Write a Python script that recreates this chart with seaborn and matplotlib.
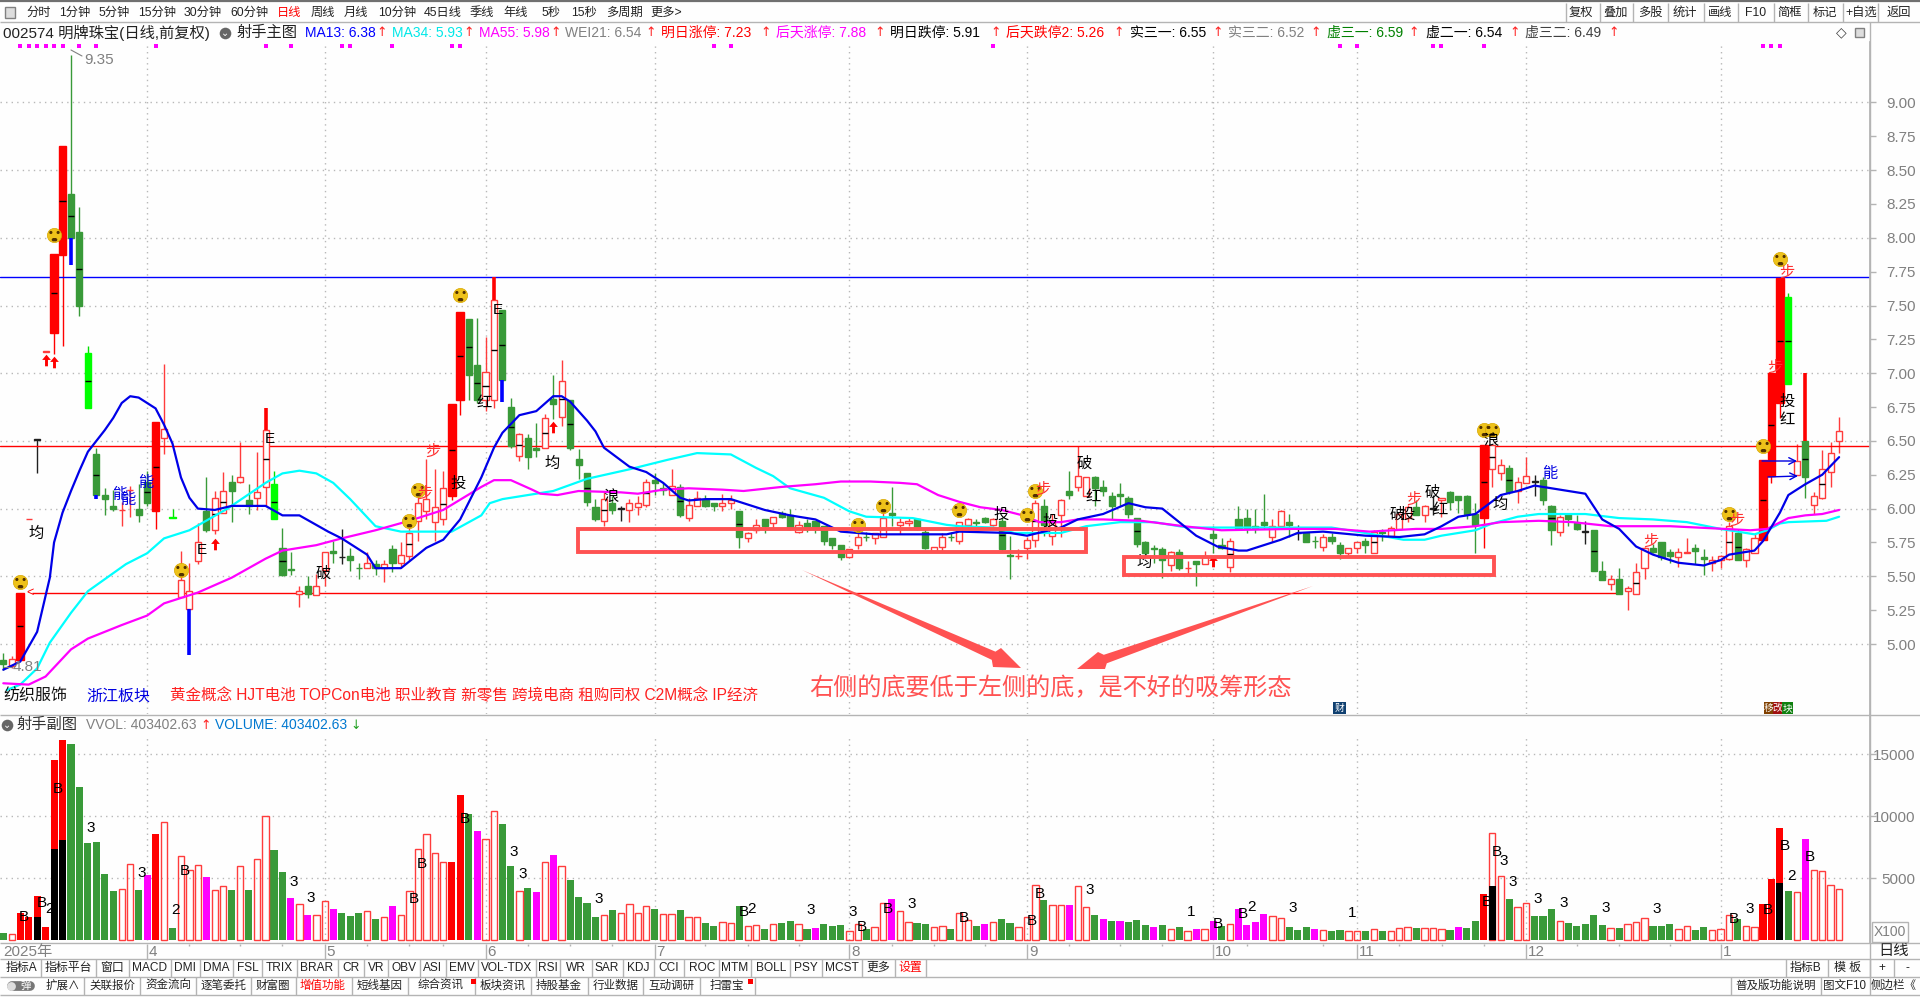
"""Дневной график 002574 (свечи, скользящие средние, объём) в стиле терминала."""

import numpy as np
import matplotlib
matplotlib.use("Agg")
import matplotlib.pyplot as plt
from matplotlib.patches import Polygon, Rectangle
from matplotlib.path import Path
from matplotlib.transforms import Affine2D
import seaborn as sns

# типы свечей по дням, всё остальное - полые красные
green_days = [0, 8, 9, 11, 12, 13, 16, 17, 24, 27, 29, 33, 34, 36, 39, 41, 42, 44, 46, 55, 56, 59, 60, 62, 63,
              65, 67, 68, 69, 70, 72, 77, 78, 80, 83, 84, 87, 90, 92, 93, 95, 96, 97, 98, 99, 102, 105, 108, 109,
              112, 115, 116, 118, 119, 123, 126, 129, 130, 131, 132, 133, 134, 135, 136, 137, 139, 141,
              143, 144, 146, 147, 148, 149, 152, 154, 155, 157, 158, 161, 163, 167,
              171, 172, 173, 174, 178, 182, 183, 185, 186, 188, 189, 191, 195, 196, 197, 200, 201,
              205, 213]
black_days = [4, 40, 73, 153, 169, 181, 187]
red_days = [2, 6, 7, 18, 53, 54, 175, 208, 209, 210]
lime_days = [10, 20, 32, 211]

body_top = [
    4.88, 4.89, 5.38, 5.92, 6.51, 7.16, 7.88, 8.68, 8.32, 8.04, 7.15, 6.40, 6.10, 6.02, 5.99, 6.14,
    6.00, 6.20, 6.64, 6.59, 5.94, 5.47, 5.39, 5.75, 5.98, 6.08, 6.13, 6.20, 6.23, 6.06, 6.12, 6.58,
    6.18, 5.71, 5.55, 5.39, 5.43, 5.43, 5.68, 5.69, 5.64, 5.65, 5.56, 5.60, 5.59, 5.59, 5.70, 5.66,
    5.82, 6.04, 6.07, 6.01, 6.15, 6.77, 7.45, 7.40, 7.06, 7.01, 7.54, 7.47, 6.75, 6.55, 6.52, 6.45,
    6.67, 6.81, 6.94, 6.80, 6.37, 6.26, 6.01, 6.07, 6.04, 6.00, 6.04, 6.04, 6.20, 6.21, 6.15, 6.17,
    6.16, 6.03, 6.08, 6.06, 6.04, 6.04, 6.06, 5.98, 5.82, 5.88, 5.92, 5.94, 5.97, 5.95, 5.88, 5.89,
    5.91, 5.87, 5.78, 5.73, 5.70, 5.79, 5.79, 5.82, 5.93, 5.97, 5.90, 5.91, 5.92, 5.83, 5.72, 5.79,
    5.79, 5.90, 5.92, 5.90, 5.93, 5.92, 5.91, 5.66, 5.65, 5.77, 6.04, 6.02, 5.90, 6.06, 6.13, 6.24,
    6.23, 6.23, 6.16, 6.09, 6.11, 6.08, 5.93, 5.75, 5.71, 5.70, 5.68, 5.68, 5.56, 5.61, 5.64, 5.81,
    5.73, 5.76, 5.92, 5.93, 5.87, 5.90, 5.87, 5.98, 5.90, 5.82, 5.82, 5.76, 5.79, 5.79, 5.73, 5.71,
    5.75, 5.76, 5.83, 5.83, 5.86, 5.96, 6.01, 6.01, 6.02, 6.00, 6.08, 6.12, 6.09, 6.09, 5.96, 6.47,
    6.47, 6.32, 6.30, 6.20, 6.24, 6.20, 6.21, 6.02, 5.94, 5.96, 5.89, 5.83, 5.84, 5.54, 5.48, 5.48,
    5.41, 5.53, 5.71, 5.71, 5.75, 5.68, 5.68, 5.68, 5.71, 5.64, 5.62, 5.65, 5.87, 5.82, 5.70, 5.78,
    6.36, 7.00, 7.70, 7.56, 6.35, 6.50, 6.09, 6.29, 6.41, 6.57,
]
body_bot = [
    4.85, 4.84, 4.88, 5.92, 6.51, 7.16, 7.30, 7.87, 8.00, 7.50, 6.74, 6.10, 6.07, 6.00, 5.99, 6.14,
    5.95, 6.04, 5.98, 6.52, 5.93, 5.35, 5.26, 5.61, 5.84, 5.84, 5.97, 6.13, 6.20, 6.02, 6.08, 6.16,
    5.92, 5.51, 5.55, 5.37, 5.37, 5.36, 5.55, 5.67, 5.64, 5.62, 5.56, 5.56, 5.56, 5.56, 5.60, 5.60,
    5.65, 5.91, 5.98, 5.90, 5.92, 6.09, 6.80, 6.99, 6.80, 6.80, 6.80, 6.95, 6.46, 6.39, 6.38, 6.43,
    6.45, 6.77, 6.68, 6.45, 6.32, 6.05, 5.92, 5.91, 5.99, 6.00, 5.99, 6.01, 6.03, 6.19, 6.14, 6.10,
    5.95, 5.93, 6.02, 6.02, 6.02, 6.02, 6.04, 5.79, 5.78, 5.84, 5.87, 5.89, 5.94, 5.85, 5.83, 5.85,
    5.86, 5.76, 5.73, 5.64, 5.64, 5.73, 5.79, 5.78, 5.79, 5.95, 5.88, 5.89, 5.85, 5.71, 5.69, 5.72,
    5.79, 5.76, 5.88, 5.89, 5.90, 5.88, 5.70, 5.65, 5.65, 5.71, 5.77, 5.88, 5.80, 5.95, 6.10, 6.16,
    6.09, 6.15, 6.13, 6.02, 6.09, 5.96, 5.74, 5.67, 5.70, 5.62, 5.58, 5.56, 5.56, 5.59, 5.59, 5.78,
    5.71, 5.57, 5.86, 5.86, 5.86, 5.88, 5.79, 5.87, 5.88, 5.82, 5.75, 5.76, 5.72, 5.76, 5.67, 5.67,
    5.71, 5.73, 5.67, 5.82, 5.80, 5.85, 5.93, 5.95, 5.95, 6.00, 6.06, 6.05, 6.06, 5.96, 5.88, 5.93,
    6.29, 6.26, 6.12, 6.13, 6.19, 6.20, 6.06, 5.84, 5.83, 5.92, 5.85, 5.83, 5.54, 5.47, 5.44, 5.37,
    5.39, 5.37, 5.56, 5.68, 5.64, 5.65, 5.64, 5.67, 5.69, 5.63, 5.60, 5.62, 5.63, 5.62, 5.62, 5.67,
    5.77, 6.24, 6.78, 6.92, 6.25, 6.23, 6.03, 6.08, 6.27, 6.50,
]
highs = [
    4.93, 4.91, 5.38, 5.92, 6.51, 7.16, 7.88, 8.68, 9.35, 8.23, 7.20, 6.45, 6.15, 6.14, 6.05, 6.17,
    6.18, 6.28, 6.64, 7.07, 6.00, 5.69, 5.60, 5.89, 6.23, 6.13, 6.27, 6.25, 6.49, 6.18, 6.42, 6.58,
    6.28, 5.86, 5.68, 5.43, 5.50, 5.52, 5.68, 5.76, 5.85, 5.71, 5.60, 5.68, 5.62, 5.62, 5.73, 5.75,
    5.94, 6.10, 6.37, 6.29, 6.28, 6.77, 7.45, 7.40, 7.41, 7.27, 7.54, 7.47, 6.82, 6.56, 6.55, 6.63,
    6.70, 6.99, 7.10, 6.80, 6.44, 6.26, 6.07, 6.13, 6.09, 6.02, 6.07, 6.09, 6.22, 6.26, 6.19, 6.29,
    6.18, 6.08, 6.13, 6.10, 6.04, 6.11, 6.10, 5.98, 5.83, 5.92, 5.92, 5.94, 5.98, 6.00, 5.91, 5.92,
    5.91, 5.87, 5.78, 5.73, 5.70, 5.86, 5.83, 5.82, 5.98, 6.16, 5.93, 5.94, 5.93, 5.86, 5.72, 5.82,
    5.83, 5.90, 5.93, 5.92, 5.94, 5.93, 5.93, 5.80, 5.70, 5.79, 6.06, 6.07, 5.96, 6.07, 6.28, 6.46,
    6.23, 6.24, 6.21, 6.12, 6.19, 6.09, 5.93, 5.76, 5.73, 5.72, 5.69, 5.70, 5.61, 5.61, 5.69, 5.87,
    5.78, 5.78, 6.02, 6.00, 6.00, 6.11, 5.92, 5.99, 5.96, 5.88, 5.83, 5.80, 5.81, 5.82, 5.75, 5.71,
    5.75, 5.78, 5.84, 5.85, 5.87, 5.97, 6.03, 6.06, 6.03, 6.10, 6.08, 6.13, 6.09, 6.10, 6.04, 6.47,
    6.47, 6.37, 6.32, 6.23, 6.38, 6.25, 6.23, 6.03, 5.95, 5.97, 5.95, 5.91, 5.84, 5.61, 5.51, 5.56,
    5.43, 5.60, 5.72, 5.74, 5.75, 5.70, 5.71, 5.78, 5.74, 5.70, 5.65, 5.66, 5.90, 5.85, 5.71, 5.81,
    6.36, 7.00, 7.70, 7.59, 6.48, 6.50, 6.12, 6.43, 6.49, 6.68,
]
lows = [
    4.81, 4.82, 4.88, 5.92, 6.26, 7.16, 7.14, 7.20, 8.00, 7.42, 6.74, 6.10, 5.95, 5.98, 5.87, 5.94,
    5.90, 6.02, 5.85, 6.40, 5.93, 5.35, 5.26, 5.59, 5.83, 5.81, 5.97, 5.90, 6.19, 5.96, 5.99, 6.02,
    5.92, 5.50, 5.51, 5.27, 5.34, 5.36, 5.43, 5.60, 5.59, 5.54, 5.48, 5.56, 5.51, 5.46, 5.53, 5.57,
    5.62, 5.76, 5.92, 5.76, 5.88, 6.06, 6.69, 6.80, 6.78, 6.72, 6.74, 6.95, 6.45, 6.35, 6.29, 6.38,
    6.45, 6.66, 6.61, 6.43, 6.22, 6.02, 5.91, 5.87, 5.96, 5.91, 5.90, 5.95, 6.01, 6.10, 6.10, 6.10,
    5.94, 5.91, 6.02, 6.01, 5.98, 5.98, 6.00, 5.71, 5.75, 5.82, 5.82, 5.85, 5.93, 5.84, 5.82, 5.83,
    5.82, 5.73, 5.70, 5.62, 5.64, 5.70, 5.76, 5.74, 5.79, 5.87, 5.81, 5.87, 5.84, 5.70, 5.69, 5.69,
    5.76, 5.74, 5.85, 5.87, 5.89, 5.87, 5.69, 5.48, 5.63, 5.63, 5.72, 5.80, 5.73, 5.79, 6.07, 6.13,
    6.09, 6.02, 6.09, 5.92, 6.02, 5.93, 5.72, 5.66, 5.60, 5.49, 5.54, 5.55, 5.52, 5.43, 5.59, 5.67,
    5.70, 5.53, 5.85, 5.82, 5.82, 5.85, 5.75, 5.87, 5.79, 5.77, 5.75, 5.71, 5.69, 5.74, 5.63, 5.66,
    5.67, 5.67, 5.67, 5.76, 5.79, 5.84, 5.90, 5.95, 5.90, 5.95, 5.94, 5.99, 5.97, 5.92, 5.67, 5.71,
    6.16, 6.21, 6.11, 6.04, 6.19, 6.09, 6.03, 5.73, 5.80, 5.87, 5.84, 5.74, 5.54, 5.47, 5.40, 5.37,
    5.25, 5.37, 5.48, 5.67, 5.62, 5.60, 5.57, 5.67, 5.59, 5.51, 5.54, 5.56, 5.62, 5.62, 5.57, 5.67,
    5.77, 6.19, 6.67, 6.92, 6.25, 6.08, 5.96, 6.07, 6.16, 6.41,
]

# толстые «хвосты» свечей
thick_days = [8, 11, 22, 59, 31, 58, 213]
thick_low = [7.80, 6.07, 4.92, 6.79, 6.58, 7.54, 6.50]
thick_high = [8.00, 6.10, 5.26, 6.95, 6.74, 7.71, 7.00]
thick_colors = ["#0000ff", "#0000ff", "#0000ff", "#0000ff", "#ff0000", "#ff0000", "#ff0000"]

ma13_days = [0, 2, 4, 5.5, 6, 7, 8, 9, 10, 12, 13, 14, 15, 16, 18, 19, 20, 21, 22, 23, 25, 27, 31, 33, 35, 38.4,
             40, 43, 44, 47, 50, 52, 54, 56.5, 58, 59, 61, 63, 65, 66, 67, 68, 69, 70, 71, 74, 76, 78, 80, 81, 83,
             86, 90, 93, 96, 99, 103, 108, 111.5, 113, 119, 121, 125, 127, 130, 133, 135, 137, 139, 141, 143.5,
             146, 147, 151, 153, 156, 161, 165, 168, 170, 172, 174, 177, 179, 181, 183, 187, 189,
             191, 193, 195, 198, 201, 203, 204, 207, 208, 210, 211, 213, 215, 217]
ma13_vals = [4.81, 4.87, 5.09, 5.49, 5.75, 5.97, 6.13, 6.28, 6.42, 6.58, 6.67, 6.78, 6.83, 6.82, 6.74, 6.62, 6.48,
             6.23, 6.08, 6.00, 5.99, 6.02, 6.02, 5.95, 5.95, 5.83, 5.78, 5.66, 5.56, 5.56, 5.71, 5.77, 5.92, 6.23,
             6.45, 6.56, 6.69, 6.72, 6.83, 6.83, 6.79, 6.72, 6.65, 6.57, 6.45, 6.31, 6.27, 6.19, 6.08, 6.06, 6.07,
             6.07, 5.99, 5.95, 5.92, 5.83, 5.81, 5.81, 5.81, 5.83, 5.82, 5.80, 5.86, 5.92, 5.96, 6.04, 6.01, 6.00,
             5.90, 5.80, 5.72, 5.69, 5.69, 5.77, 5.82, 5.83, 5.80, 5.79, 5.81, 5.87, 5.94, 5.96, 6.10, 6.13,
             6.17, 6.15, 6.11, 5.92, 5.85, 5.72, 5.66, 5.60, 5.58, 5.62, 5.66, 5.69, 5.76, 5.97, 6.10,
             6.18, 6.25, 6.38]

ma34_days = [0.4, 2, 4, 5.5, 8, 10, 14.5, 17, 19, 22, 26.5, 31, 33, 35, 37, 39, 41, 44, 47, 53, 56.5, 57.5,
             59, 63, 65, 69, 74, 78.5, 82, 86, 89, 91, 93, 97, 100, 102, 107.5, 111.5, 113, 117, 119.5,
             125, 128, 132, 136, 140, 144.5, 154, 157, 161, 165.5, 168, 170, 174, 176, 179, 181.5, 187,
             191, 195, 199, 203, 207, 208.5, 210, 211, 215.5, 217]
ma34_vals = [4.66, 4.70, 4.82, 5.01, 5.23, 5.39, 5.59, 5.67, 5.78, 5.84, 6.00, 6.19, 6.26, 6.28, 6.26, 6.19,
             6.07, 5.87, 5.83, 5.83, 5.95, 6.04, 6.07, 6.11, 6.13, 6.22, 6.29, 6.36, 6.41, 6.40, 6.30,
             6.24, 6.15, 6.08, 5.98, 5.94, 5.93, 5.88, 5.87, 5.86, 5.82, 5.82, 5.87, 5.90, 5.90, 5.86,
             5.86, 5.86, 5.86, 5.82, 5.77, 5.77, 5.80, 5.84, 5.89, 5.94, 5.96, 5.96, 5.93, 5.92, 5.90,
             5.85, 5.81, 5.84, 5.89, 5.90, 5.91, 5.94]

ma55_days = [0, 3, 5, 8, 10, 14, 17, 19, 23, 27, 31, 33, 37, 40, 44, 48, 52, 56.5, 58, 60, 62.5, 63.5, 65.5,
             68, 73, 75, 78, 81, 85, 87.5, 92, 96, 99, 102.5, 106, 108, 110.5, 113, 115.5, 118, 120.5,
             122.5, 125, 127, 130, 134.5, 139.5, 144, 152.5, 157.5, 161.5, 167, 170, 174, 177, 181.5,
             185.5, 190, 197, 203.5, 206.5, 208.5, 211, 213, 215, 217]
ma55_vals = [4.71, 4.70, 4.76, 4.96, 5.04, 5.14, 5.21, 5.30, 5.38, 5.49, 5.63, 5.69, 5.73, 5.78, 5.84, 5.91,
             5.99, 6.16, 6.21, 6.21, 6.14, 6.11, 6.10, 6.13, 6.12, 6.11, 6.14, 6.15, 6.14, 6.13, 6.16,
             6.18, 6.20, 6.20, 6.19, 6.18, 6.10, 6.05, 6.01, 5.99, 5.95, 5.90, 5.90, 5.92, 5.92, 5.91,
             5.87, 5.84, 5.85, 5.85, 5.83, 5.85, 5.85, 5.87, 5.90, 5.91, 5.90, 5.87, 5.87, 5.85, 5.84,
             5.85, 5.93, 5.95, 5.96, 5.99]

hline_blue = 7.71
hline_red = 6.46
hline_support = 5.38

volumes = [
    540, 460, 2200, 1860, 3550, 1050, 14530, 16140, 15820, 12350, 7830, 7910, 5330, 3950, 4090, 6110, 4040,
    5250, 8550, 9500, 970, 6750, 5620, 6030, 5080, 4010, 4330, 4040, 5950, 4040, 6510, 9980, 7260, 5490,
    3390, 2880, 2020, 1990, 3120, 2500, 2180, 1940, 2180, 2310, 1690, 1830, 2740, 1990, 3930, 7320, 8530,
    6990, 6270, 6300, 11700, 10170, 8800, 8120, 10460, 9360, 5970, 3930, 4200, 3870, 6270, 6860, 5950,
    4840, 3470, 2990, 1860, 1990, 2420, 2180, 2880, 2180, 2740, 2500, 2100, 2100, 2420, 1860, 1860, 1370,
    1130, 1450, 1370, 2740, 1130, 1210, 890, 1290, 1370, 1530, 1290, 890, 970, 1290, 1130, 1210, 730, 1290,
    890, 1020, 2960, 3310, 2310, 1450, 1370, 1290, 1020, 1130, 890, 2180, 1610, 1130, 1290, 1450, 1690,
    1370, 1020, 1860, 4410, 3230, 2820, 2820, 2820, 4330, 2640, 2020, 1690, 1530, 1530, 1450, 1610, 1210,
    1050, 1210, 890, 1050, 730, 890, 890, 1530, 1130, 1290, 2500, 1210, 1450, 2100, 1940, 1780, 1050, 810,
    1050, 890, 810, 730, 810, 730, 730, 730, 890, 730, 730, 970, 1050, 970, 970, 970, 890, 810, 1050, 970,
    1530, 3710, 8610, 5140, 3310, 2640, 2960, 1940, 1940, 2500, 1530, 1370, 1130, 1290, 2020, 1210, 940,
    970, 1260, 1430, 1750, 1130, 1130, 1290, 860, 1100, 810, 1050, 780, 860, 1990, 1690, 1100, 1020, 2900,
    4920, 9040, 3950, 3850, 8150, 5620, 5540, 4410, 4090,
]
# цвет столбцов объёма по дням, всё остальное - полые
vol_green = [0, 8, 9, 10, 11, 12, 13, 16, 20, 27, 29, 32, 33, 40, 41, 42, 44, 55, 59, 60, 62, 67, 68, 69, 70,
             72, 77, 80, 83, 84, 87, 90, 92, 93, 95, 97, 98, 99, 102, 108, 109, 112, 115, 118, 119, 123, 129,
             131, 133, 134, 135, 137, 139, 144, 152, 153, 154, 157, 158, 161, 163, 167, 171, 173, 174, 178,
             181, 182, 183, 185, 186, 187, 188, 189, 191, 195, 196, 197, 200, 201, 205, 211]
vol_red = [2, 3, 4, 5, 6, 7, 18, 53, 54, 175, 208, 209, 210]
vol_magenta = [17, 24, 34, 36, 39, 46, 56, 63, 65, 96, 105, 116, 126, 130, 132, 136, 141, 143, 146, 147, 148,
               149, 155, 172, 213]
# чёрная нижняя часть столбца
black_vol_days = [4, 6, 7, 176, 210]
black_vol_vals = [1860, 7340, 8070, 4360, 4570]

month_days = [17, 38, 57, 77, 100, 121, 143, 160, 180, 203]
month_labels = ["4", "5", "6", "7", "8", "9", "10", "11", "12", "1"]
week_days = [22, 28, 33, 43, 48, 52, 62, 67, 72, 83, 88, 94, 105, 110, 116, 126, 132, 137, 147,
             156, 165, 170, 175, 186, 191, 197]
signal_days = [2, 3, 4, 5, 6, 7, 9, 11, 18, 31, 34, 40, 41, 46, 53, 54, 84, 86, 117, 158, 160, 169, 170,
               175, 208, 209, 210]
smile_days = [6, 2, 21, 49, 48, 54, 101, 104, 113, 122, 121, 175, 176, 204, 208, 210]
smile_vals = [8.02, 5.46, 5.55, 6.14, 5.91, 7.58, 5.88, 6.02, 5.99, 6.13, 5.95, 6.58, 6.58, 5.96, 6.46, 7.84]
up_arrow_days = [5, 6, 25, 65, 143]
up_arrow_vals = [7.10, 7.08, 5.74, 6.60, 5.61]

# подписи поверх графика
black_tags = [("均", 36, 534), ("E", 202, 550), ("E", 270, 439), ("破", 323, 574), ("投", 458, 484),
              ("红", 484, 403), ("E", 498, 310), ("均", 552, 464), ("浪", 611, 497), ("投", 1001, 515),
              ("投", 1050, 522), ("破", 1084, 464), ("红", 1093, 497), ("均", 1144, 563), ("破", 1397, 515),
              ("投", 1407, 515), ("破", 1432, 493), ("红", 1440, 510), ("浪", 1491, 441), ("均", 1500, 505),
              ("投", 1787, 402), ("红", 1787, 420)]
red_tags = [("步", 433, 452), ("步", 425, 494), ("步", 1043, 490), ("步", 1414, 500), ("步", 1651, 542),
            ("步", 1737, 521), ("步", 1787, 273), ("步", 1775, 368)]
blue_tags = [("能", 120, 495), ("能", 128, 500), ("能", 146, 483), ("能", 1550, 474)]
vol_tags = [("B", 24, 917), ("B", 42, 903), ("B", 58, 789), ("B", 185, 871), ("B", 414, 899), ("B", 422, 864),
            ("B", 465, 819), ("B", 744, 912), ("B", 862, 927), ("B", 888, 909), ("B", 964, 918), ("B", 1032, 921),
            ("B", 1040, 894), ("B", 1218, 924), ("B", 1243, 914), ("B", 1487, 902), ("B", 1497, 852),
            ("B", 1734, 919), ("B", 1768, 910), ("B", 1785, 846), ("B", 1810, 857),
            ("3", 91, 828), ("3", 142, 873), ("3", 294, 882), ("3", 311, 898), ("3", 514, 852), ("3", 523, 874),
            ("3", 599, 899), ("3", 811, 910), ("3", 853, 912), ("3", 912, 904), ("3", 1090, 890), ("3", 1293, 908),
            ("3", 1504, 861), ("3", 1513, 882), ("3", 1538, 899), ("3", 1564, 903), ("3", 1606, 908),
            ("3", 1657, 909), ("3", 1750, 909), ("2", 49, 909), ("2", 176, 910), ("2", 751, 909), ("2", 1251, 907),
            ("2", 1792, 876), ("1", 1191, 912), ("1", 1352, 913)]

toolbar_labels = ["分时", "1分钟", "5分钟", "15分钟", "30分钟", "60分钟", "日线", "周线", "月线", "10分钟", "45日线",
                  "季线", "年线", "5秒", "15秒", "多周期", "更多>"]
toolbar_x = [39, 75, 114, 157, 203, 249, 289, 323, 356, 397, 443, 482, 516, 551, 584, 624, 666]
tools_labels = ["复权", "叠加", "多股", "统计", "画线", "F10", "简框", "标记", "+自选", "返回"]
tools_x = [1581, 1616, 1650, 1685, 1720, 1756, 1790, 1825, 1861, 1899]
tools_lines = [1566, 1600, 1633, 1668, 1704, 1738, 1774, 1808, 1843, 1878]

header_items = [("MA13: 6.38", 305, "#0000ff", 381), ("MA34: 5.93", 392, "#00e8e8", 468),
                ("MA55: 5.98", 479, "#ff00ff", 555), ("WEI21: 6.54", 565, "#808080", 650),
                ("明日涨停: 7.23", 661, "#ff0000", 765), ("后天涨停: 7.88", 776, "#ff00ff", 879),
                ("明日跌停: 5.91", 890, "#000000", 995), ("后天跌停2: 5.26", 1006, "#ff0000", 1118),
                ("实三一: 6.55", 1130, "#000000", 1217), ("实三二: 6.52", 1228, "#808080", 1315),
                ("虚三一: 6.59", 1327, "#008000", 1413), ("虚二一: 6.54", 1426, "#000000", 1514),
                ("虚三二: 6.49", 1525, "#404040", 1613)]

row1_labels = ["指标A", "指标平台", "窗口", "MACD", "DMI", "DMA", "FSL", "TRIX", "BRAR", "CR", "VR", "OBV", "ASI", "EMV",
               "VOL-TDX", "RSI", "WR", "SAR", "KDJ", "CCI", "ROC", "MTM", "BOLL", "PSY", "MCST", "更多", "设置",
               "指标B", "模 板", "+", "-"]
row1_x = [21, 68, 112, 150, 185, 216, 248, 279, 317, 351, 376, 404, 433, 462, 507, 548, 576, 607, 638, 669,
          702, 735, 771, 806, 842, 878, 910, 1806, 1848, 1882, 1907]
row1_lines = [41, 96, 129, 171, 200, 233, 262, 297, 338, 364, 388, 420, 446, 478, 536, 560, 592, 623, 654, 684,
              719, 751, 790, 822, 862, 895, 926, 1786, 1828, 1870, 1894]
row2_labels = ["扩展∧", "关联报价", "资金流向", "逐笔委托", "财富圈", "增值功能", "短线基因", "综合资讯", "板块资讯", "持股基金",
               "行业数据", "互动调研", "扫雷宝", "普及版功能说明", "图文F10", "侧边栏《"]
row2_x = [63, 112, 168, 224, 273, 323, 380, 441, 503, 559, 616, 671, 727, 1776, 1845, 1894]
row2_lines = [84, 140, 196, 251, 296, 352, 408, 475, 531, 588, 643, 700, 755, 1731, 1821, 1870]

concept_text = "黄金概念 HJT电池 TOPCon电池 职业教育 新零售 跨境电商 租购同权 C2M概念 IP经济"
note_text = "右侧的底要低于左侧的底，是不好的吸筹形态"

FIG_W, FIG_H = 1920, 997
BAR_STEP = 8.46
BAR_X0 = 3.3
PANEL_RIGHT = 1870
BG = "#fefefe"
RED = "#ff3c3c"
GREEN = "#399a39"
NOTE_RED = "#ff5252"
GREY = "#808080"
LINE_GREY = "#b4b4b4"

sns.set_theme(style="white")
plt.rcParams["font.family"] = ["Liberation Sans", "Noto Sans CJK SC", "DejaVu Sans"]


def px_axes(fig, x0, y0, x1, y1):
    """Оси по пиксельным границам (y считается сверху вниз)."""
    return fig.add_axes([x0 / FIG_W, 1 - y1 / FIG_H, (x1 - x0) / FIG_W, (y1 - y0) / FIG_H])


def draw_candles(ax):
    days = np.arange(len(body_top))
    kinds = np.full(len(body_top), "h")
    kinds[green_days] = "g"
    kinds[black_days] = "k"
    kinds[red_days] = "r"
    kinds[lime_days] = "l"
    top, bot = np.array(body_top), np.array(body_bot)
    wick_colors = {"g": GREEN, "h": RED, "r": "#ff0000", "l": "#00e000", "k": "#202020"}
    face_colors = {"g": GREEN, "h": BG, "r": "#ff0000", "l": "#00ff00", "k": "#202020"}
    edge_colors = {"g": GREEN, "h": RED, "r": "#ff0000", "l": "#00ff00", "k": "#202020"}
    for kind in "ghrlk":
        mask = kinds == kind
        ax.vlines(days[mask], np.array(lows)[mask], np.array(highs)[mask],
                  color=wick_colors[kind], linewidth=1.0, zorder=2)
        width = 0.92 if kind == "r" else 0.72
        ax.bar(days[mask], np.maximum(top[mask] - bot[mask], 0.001), bottom=bot[mask], width=width,
               facecolor=face_colors[kind], edgecolor=edge_colors[kind], linewidth=1.0, zorder=3)
    ax.vlines(thick_days, thick_low, thick_high, color=thick_colors, linewidth=2.6, zorder=3)
    tall = (top - bot) >= 0.16
    ax.hlines((top[tall] + bot[tall]) / 2, days[tall] - 0.36, days[tall] + 0.36,
              color="black", linewidth=1.0, zorder=3.5)


def draw_main(ax):
    ax.set_facecolor(BG)
    ax.set_xlim(-BAR_X0 / BAR_STEP, (PANEL_RIGHT - BAR_X0) / BAR_STEP)
    ax.set_ylim(5 - 70 / 135.4, 5 + 602 / 135.4)
    ax.hlines(np.arange(5, 9.01, 0.5), *ax.get_xlim(), color="#b8b8b8", linewidth=1, linestyle=(0, (1, 3)), zorder=1)
    ax.vlines(month_days, *ax.get_ylim(), color="#b8b8b8", linewidth=1, linestyle=(0, (1, 3)), zorder=1)

    draw_candles(ax)

    sns.lineplot(x=ma34_days, y=ma34_vals, color="#00ffff", linewidth=1.6, ax=ax, zorder=4, estimator=None)
    sns.lineplot(x=ma55_days, y=ma55_vals, color="#ff00ff", linewidth=1.6, ax=ax, zorder=4.1, estimator=None)
    sns.lineplot(x=ma13_days, y=ma13_vals, color="#0000e8", linewidth=1.6, ax=ax, zorder=4.2, estimator=None)

    ax.axhline(hline_blue, color="#0000ff", linewidth=1, zorder=2.5)
    ax.axhline(hline_red, color="#ff0000", linewidth=1, zorder=2.5)
    ax.hlines(hline_support, 3.4, 190.9, color="#ff0000", linewidth=1, zorder=2.5)

    sns.scatterplot(x=signal_days, y=[9.416] * len(signal_days), marker="s", s=7, color="#ff00ff",
                    linewidth=0, ax=ax, zorder=5)

    # смайлики: жёлтый круг и рожица отдельным маркером
    eye = Path.unit_circle().transformed(Affine2D().scale(0.13))
    parts = [eye.transformed(Affine2D().translate(dx, dy))
             for dx, dy in [(-0.3, 0.25), (0.3, 0.25), (0, -0.35), (-0.1, -0.35), (0.1, -0.35)]]
    face = Path.make_compound_path(*parts)
    sns.scatterplot(x=smile_days, y=smile_vals, s=105, color="#eec21a", edgecolor="#d8a800", linewidth=0.5,
                    ax=ax, zorder=5.5)
    ax.scatter(smile_days, smile_vals, marker=face, s=70, c="#503000", linewidths=0, zorder=5.6)

    arrow = Path([(0, 1), (0.75, 0.1), (0.25, 0.1), (0.25, -1), (-0.25, -1), (-0.25, 0.1), (-0.75, 0.1), (0, 1)],
                 closed=True)
    ax.scatter(up_arrow_days, up_arrow_vals, marker=arrow, s=70, c="#ff0000", linewidths=0, zorder=5.5)

    ax.set_xticks([])
    ax.yaxis.tick_right()
    ax.set_yticks(np.arange(5, 9.01, 0.25))
    ax.set_yticklabels([f"{v:.2f}" for v in np.arange(5, 9.01, 0.25)])
    ax.tick_params(axis="y", right=True, length=4, width=1, color=LINE_GREY, pad=29, labelsize=11, labelcolor=GREY)
    for label in ax.get_yticklabels():
        label.set_ha("right")
    for name in ("top", "bottom", "left"):
        ax.spines[name].set_visible(False)
    ax.spines["right"].set_color(LINE_GREY)
    ax.set_xlabel("")
    ax.set_ylabel("")


def draw_volume(ax):
    ax.set_facecolor(BG)
    days = list(range(len(volumes)))
    vol = np.array(volumes)
    kinds = np.full(len(volumes), "o")
    kinds[vol_green] = "g"
    kinds[vol_red] = "r"
    kinds[vol_magenta] = "m"
    idx = np.array(days)
    solid = {"g": GREEN, "r": "#ff0000", "m": "#ff00ff"}
    for kind, color in solid.items():
        mask = kinds == kind
        sns.barplot(x=idx[mask], y=vol[mask], order=days, color=color, saturation=1, width=0.84,
                    errorbar=None, ax=ax, zorder=3, linewidth=0)
    mask = kinds == "o"
    sns.barplot(x=idx[mask], y=vol[mask], order=days, color=RED, saturation=1, width=0.76, fill=False,
                errorbar=None, ax=ax, zorder=3, linewidth=1.0)
    sns.barplot(x=black_vol_days, y=black_vol_vals, order=days, color="black", saturation=1, width=0.84,
                errorbar=None, ax=ax, zorder=3.5, linewidth=0)

    ax.set_xlim(-BAR_X0 / BAR_STEP, (PANEL_RIGHT - BAR_X0) / BAR_STEP)
    ax.set_ylim(-242, 18174)
    ax.hlines([5000, 10000, 15000], *ax.get_xlim(), color="#b8b8b8", linewidth=1, linestyle=(0, (1, 3)), zorder=1)
    ax.vlines(month_days, 0, 16400, color="#b8b8b8", linewidth=1, linestyle=(0, (1, 3)), zorder=1)
    ax.set_xticks([])
    ax.yaxis.tick_right()
    ax.set_yticks([5000, 10000, 15000])
    ax.set_yticklabels(["5000", "10000", "15000"])
    ax.tick_params(axis="y", right=True, length=4, width=1, color=LINE_GREY, pad=29, labelsize=11, labelcolor=GREY)
    for label in ax.get_yticklabels():
        label.set_ha("right")
    for name in ("top", "bottom", "left"):
        ax.spines[name].set_visible(False)
    ax.spines["right"].set_color(LINE_GREY)
    ax.set_xlabel("")
    ax.set_ylabel("")


def tapered_arrow(ui, tail, tip, barb_a, barb_b):
    """Стрелка от руки: тонкий хвост, расширяющееся тело, наконечник."""
    tail, tip, barb_a, barb_b = map(np.array, (tail, tip, barb_a, barb_b))
    direction = (tip - tail) / np.linalg.norm(tip - tail)
    normal = np.array([-direction[1], direction[0]])
    neck = tip - direction * 30
    first, second = (barb_a, barb_b) if np.dot(barb_a - neck, normal) > 0 else (barb_b, barb_a)
    pts = [tail, neck + normal * 4.5, first, tip, second, neck - normal * 4.5]
    ui.add_patch(Polygon(pts, closed=True, facecolor=NOTE_RED, edgecolor="none", zorder=8))


def draw_ui(ui):
    ui.set_xlim(0, FIG_W)
    ui.set_ylim(FIG_H, 0)
    ui.axis("off")
    ui.patch.set_alpha(0)

    def hline(y, x0=0, x1=FIG_W, color=LINE_GREY, lw=1):
        ui.plot([x0, x1], [y, y], color=color, linewidth=lw, zorder=1, solid_capstyle="butt")

    def vline(x, y0, y1, color=LINE_GREY, lw=1):
        ui.plot([x, x], [y0, y1], color=color, linewidth=lw, zorder=1, solid_capstyle="butt")

    # верхняя панель
    hline(1.5, color="#707070", lw=1.6)
    hline(22)
    hline(715)
    hline(943)
    hline(959)
    hline(977)
    hline(995)
    vline(PANEL_RIGHT, 22, 977)
    for x in tools_lines:
        vline(x, 3, 22)
    ui.add_patch(Rectangle((5, 7), 10, 11, facecolor="#dddddd", edgecolor=GREY, linewidth=1))
    for label, x in zip(toolbar_labels, toolbar_x):
        color = "#ff0000" if label == "日线" else "#222222"
        ui.text(x, 13, label, ha="center", va="center", fontsize=8.8, color=color)
    for label, x in zip(tools_labels, tools_x):
        ui.text(x, 13, label, ha="center", va="center", fontsize=8.8, color="#222222")

    # строка показателей
    ui.text(3, 33, "002574 明牌珠宝(日线,前复权)", va="center", fontsize=11, color="#222222")
    ui.scatter([225], [33], s=70, c="#666666", linewidths=0)
    ui.text(225, 33, "⌄", ha="center", va="center", fontsize=7, color="white", family=["DejaVu Sans"])
    ui.text(237, 33, "射手主图", va="center", fontsize=11, color="#222222")
    for text, x, color, arrow_x in header_items:
        ui.text(x, 33, text, va="center", fontsize=10, color=color)
        ui.text(arrow_x + 1, 33, "↑", ha="center", va="center", fontsize=9, color="#ff2020",
                family=["DejaVu Sans"])
    ui.text(1841, 32, "◇", ha="center", va="center", fontsize=10, color="#444444", family=["DejaVu Sans"])
    ui.add_patch(Rectangle((1855, 28), 9, 9, facecolor="#dddddd", edgecolor=GREY, linewidth=1))

    # подписи экстремумов
    ui.text(84, 60, "9.35", va="center", fontsize=11, color=GREY)
    ui.plot([71, 82], [50, 56], color=GREY, linewidth=0.8)
    ui.text(13, 667, "4.81", va="center", fontsize=11, color=GREY)
    ui.plot([4, 12], [667, 667], color=GREY, linewidth=0.8)
    ui.text(30, 593, "<", va="center", ha="center", fontsize=9, color="#ff0000")

    # метки сигналов
    for text, x, y in black_tags:
        ui.text(x, y, text, ha="center", va="center", fontsize=11, color="black", zorder=6)
    for text, x, y in red_tags:
        ui.text(x, y, text, ha="center", va="center", fontsize=11, color="#ff3030", zorder=6)
    for text, x, y in blue_tags:
        ui.text(x, y, text, ha="center", va="center", fontsize=11, color="#0000e0", zorder=6)
    for text, x, y in vol_tags:
        ui.text(x, y, text, ha="center", va="center", fontsize=11, color="black", zorder=6)

    # синие стрелки перед закрытием
    ui.annotate("", xy=(1797, 461), xytext=(1762, 461),
                arrowprops=dict(arrowstyle="->", color="#0000e0", lw=1, shrinkA=0, shrinkB=0), zorder=6)
    ui.annotate("", xy=(1798, 476), xytext=(1768, 477),
                arrowprops=dict(arrowstyle="->", color="#0000e0", lw=1, shrinkA=0, shrinkB=0), zorder=6)

    # разметка автора
    for x0, y0, x1, y1 in [(578, 529, 1086, 552), (1124, 557, 1494, 575)]:
        ui.add_patch(Rectangle((x0, y0), x1 - x0, y1 - y0, facecolor="none", edgecolor=NOTE_RED,
                               linewidth=2.8, zorder=7))
    tapered_arrow(ui, (802, 570), (1021, 668), (1001, 648), (993, 667))
    tapered_arrow(ui, (1313, 586), (1077, 669), (1098, 652), (1105, 669))
    ui.text(809, 688, note_text, va="center", fontsize=17.4, color=NOTE_RED, zorder=8)

    # концепции
    ui.text(3, 696, "纺织服饰", va="center", fontsize=11.5, color="#111111")
    ui.text(86, 696, "浙江板块", va="center", fontsize=11.5, color="#0000e0")
    ui.text(170, 696, concept_text, va="center", fontsize=11.2, color="#ff2020")

    # значки в правом нижнем углу основной панели
    for x0, w, color, label in [(1333, 13, "#104070", "财"), (1764, 9, "#804000", "移"),
                                (1773, 9, "#a01010", "改"), (1782, 11, "#108010", "块")]:
        ui.add_patch(Rectangle((x0, 702), w, 12, facecolor=color, edgecolor="none", zorder=6))
        ui.text(x0 + w / 2, 708, label, ha="center", va="center", fontsize=7, color="white", zorder=6.5)

    # нижняя панель
    ui.scatter([7], [725], s=70, c="#666666", linewidths=0)
    ui.text(7, 725, "⌄", ha="center", va="center", fontsize=7, color="white", family=["DejaVu Sans"])
    ui.text(17, 725, "射手副图", va="center", fontsize=11, color="#333333")
    ui.text(86, 725, "VVOL: 403402.63", va="center", fontsize=10, color=GREY)
    ui.text(206, 725, "↑", ha="center", va="center", fontsize=9, color="#ff2020", family=["DejaVu Sans"])
    ui.text(215, 725, "VOLUME: 403402.63", va="center", fontsize=10, color="#0078d0")
    ui.text(356, 725, "↓", ha="center", va="center", fontsize=9, color="#20a020", family=["DejaVu Sans"])

    # ось дат
    ui.text(3, 952, "2025年", va="center", fontsize=11, color=GREY)
    for day, label in zip(month_days, month_labels):
        x = BAR_X0 + BAR_STEP * day
        vline(x, 944, 959)
        ui.text(x + 2, 952, label, va="center", fontsize=11, color=GREY)
    for day in week_days:
        x = BAR_X0 + BAR_STEP * day
        vline(x, 944, 946)
    ui.text(1894, 951, "日线", ha="center", va="center", fontsize=11, color="#222222")
    ui.add_patch(Rectangle((1872, 922), 36, 20, facecolor=BG, edgecolor=LINE_GREY, linewidth=1, zorder=3))
    ui.text(1890, 932, "X100", ha="center", va="center", fontsize=10, color=GREY, zorder=4)

    # кнопки
    for label, x in zip(row1_labels, row1_x):
        color = "#ff0000" if label == "设置" else "#222222"
        ui.text(x, 968, label, ha="center", va="center", fontsize=8.6, color=color)
    for x in row1_lines:
        vline(x, 959, 977)
    for label, x in zip(row2_labels, row2_x):
        color = "#ff0000" if label == "增值功能" else "#222222"
        ui.text(x, 986, label, ha="center", va="center", fontsize=8.3, color=color)
    for x in row2_lines:
        vline(x, 977, 995)
    ui.add_patch(Rectangle((471, 979), 5, 5, facecolor="#ff0000", edgecolor="none"))
    ui.add_patch(Rectangle((748, 979), 5, 5, facecolor="#ff0000", edgecolor="none"))
    ui.plot([12, 30], [986, 986], color="#777777", linewidth=7, solid_capstyle="round")
    ui.scatter([11], [986], s=40, c="#dddddd", linewidths=0, zorder=3)
    ui.text(26, 986, "弹", ha="center", va="center", fontsize=7.5, color="white", zorder=3)


if __name__ == "__main__":
    fig = plt.figure(figsize=(FIG_W / 100, FIG_H / 100), dpi=100, facecolor=BG)
    ax_main = px_axes(fig, 0, 42, PANEL_RIGHT, 714)
    ax_vol = px_axes(fig, 0, 715, PANEL_RIGHT, 943)
    draw_main(ax_main)
    draw_volume(ax_vol)
    ax_ui = fig.add_axes([0, 0, 1, 1], zorder=10)
    draw_ui(ax_ui)
    fig.savefig("out.png", dpi=100, facecolor=BG)
    plt.close(fig)
